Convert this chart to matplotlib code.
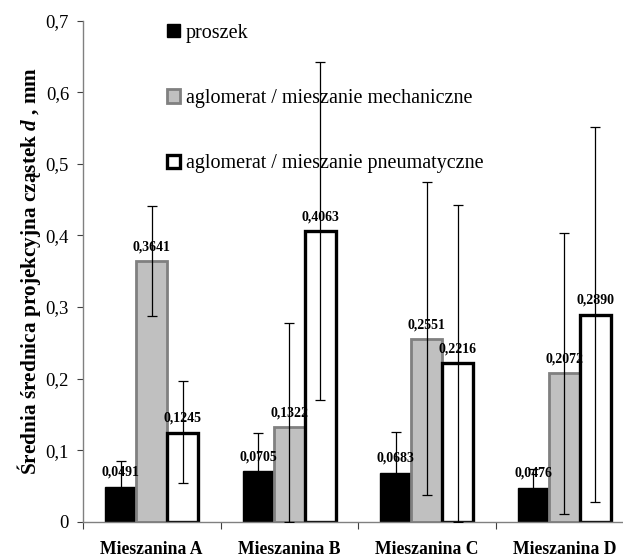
import numpy as np
import matplotlib.pyplot as plt
from matplotlib.patches import Patch

plt.rcParams['font.family'] = ['Liberation Serif', 'DejaVu Serif']
plt.rcParams['mathtext.fontset'] = 'custom'
plt.rcParams['mathtext.it'] = 'Liberation Serif:bold:italic'
plt.rcParams['mathtext.rm'] = 'Liberation Serif:bold'

# data
categories = ['Mieszanina A', 'Mieszanina B', 'Mieszanina C', 'Mieszanina D']
series = ['proszek', 'aglomerat / mieszanie mechaniczne',
          'aglomerat / mieszanie pneumatyczne']

proszek = [0.0491, 0.0705, 0.0683, 0.0476]
mech = [0.3641, 0.1322, 0.2551, 0.2072]
pneu = [0.1245, 0.4063, 0.2216, 0.2890]

# error bar ends (low, high)
proszek_lo = [0.014, 0.018, 0.011, 0.021]
proszek_hi = [0.085, 0.124, 0.125, 0.074]
mech_lo = [0.288, 0.0, 0.037, 0.011]
mech_hi = [0.441, 0.277, 0.474, 0.404]
pneu_lo = [0.054, 0.170, 0.0, 0.028]
pneu_hi = [0.197, 0.643, 0.442, 0.552]

values = [proszek, mech, pneu]
lows = [proszek_lo, mech_lo, pneu_lo]
highs = [proszek_hi, mech_hi, pneu_hi]

faces = ['black', '#c0c0c0', 'white']
edges = ['black', '#808080', 'black']
lws = [1.0, 2.0, 2.4]

fig = plt.figure(figsize=(6.23, 5.57), dpi=100)
ax = fig.add_axes([0.1332, 0.0634, 0.883, 0.8994])

x = np.arange(len(categories))
w = 0.225
for i in range(3):
    v = np.array(values[i])
    pos = x + (i - 1) * w
    yerr = [v - np.array(lows[i]), np.array(highs[i]) - v]
    ax.bar(pos, v, width=w, color=faces[i], edgecolor=edges[i],
           linewidth=lws[i], label=series[i], zorder=2)
    ax.errorbar(pos, v, yerr=yerr, fmt='none', ecolor='black',
                elinewidth=0.9, capsize=3.5, capthick=0.9, zorder=3)
    for p, val in zip(pos, v):
        ax.text(p, val + 0.011, f'{val:.4f}'.replace('.', ','),
                ha='center', va='bottom', fontsize=10, fontweight='bold',
                zorder=4)

ax.set_xlim(-0.5, 3.5)
ax.set_ylim(0, 0.7)
ax.set_yticks(np.arange(0, 0.71, 0.1))
ax.set_yticklabels(['0'] + [f'{t:.1f}'.replace('.', ',')
                            for t in np.arange(0.1, 0.71, 0.1)],
                   fontsize=13.5)
ax.set_xticks(np.arange(-0.5, 3.6, 1))
ax.set_xticklabels([])
ax.set_xticks(x, minor=True)
ax.set_xticklabels(categories, minor=True, fontsize=12.7, fontweight='bold')
ax.tick_params(axis='x', which='minor', length=0, pad=14)
ax.tick_params(axis='x', which='major', length=5, color='#404040')
ax.tick_params(axis='y', length=4, pad=6, color='#404040')

for s in ['top', 'right']:
    ax.spines[s].set_visible(False)
for s in ['left', 'bottom']:
    ax.spines[s].set_color('#808080')
    ax.spines[s].set_linewidth(1.0)

ax.set_ylabel(r'Średnia średnica projekcyjna cząstek $d$ , mm',
              fontsize=15.3, fontweight='bold', labelpad=2)

handles = [Patch(facecolor=faces[i], edgecolor=edges[i], linewidth=lws[i])
           for i in range(3)]
ax.legend(handles, series, loc='upper left', bbox_to_anchor=(0.119, 1.03),
          frameon=False, fontsize=14.5, labelspacing=2.3, handlelength=0.65,
          handleheight=0.65, handletextpad=0.3)

fig.savefig('out.png', dpi=100)
